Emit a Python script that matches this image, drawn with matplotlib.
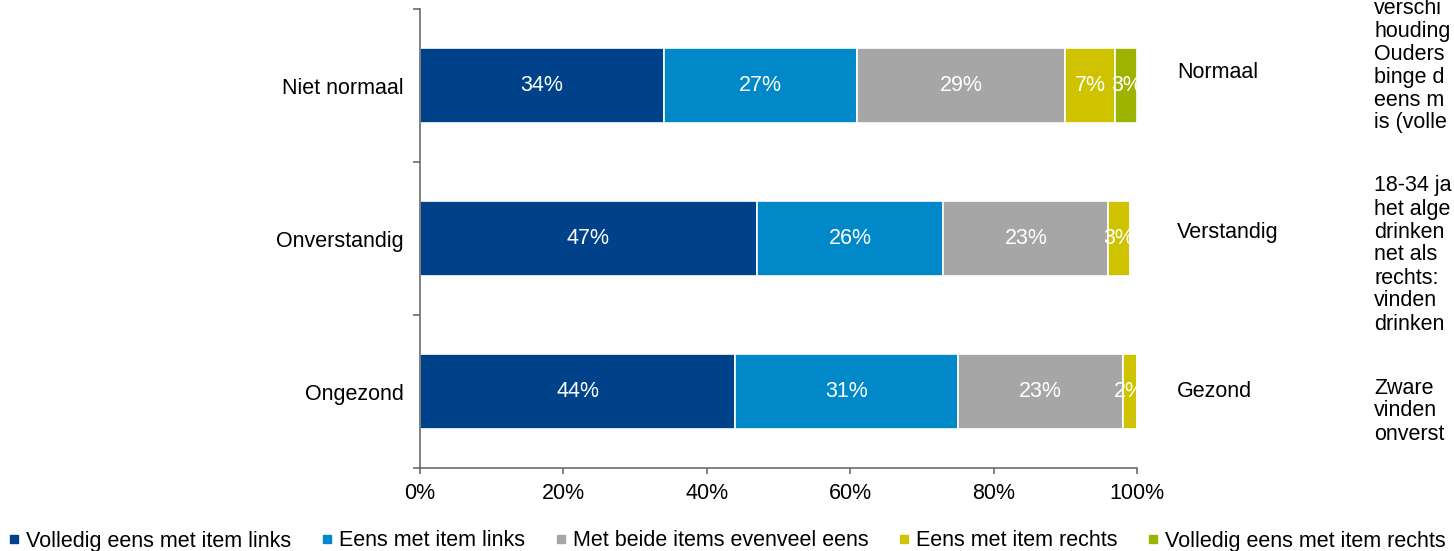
import numpy as np
import matplotlib.pyplot as plt
from matplotlib.lines import Line2D

plt.rcParams['font.family'] = ['Liberation Sans', 'DejaVu Sans']

#data
left_items = ['Niet normaal', 'Onverstandig', 'Ongezond']
right_items = ['Normaal', 'Verstandig', 'Gezond']
series = ['Volledig eens met item links', 'Eens met item links',
          'Met beide items evenveel eens', 'Eens met item rechts',
          'Volledig eens met item rechts']
values = np.array([
    [34, 27, 29, 7, 3],
    [47, 26, 23, 3, 0],
    [44, 31, 23, 2, 0],
])
xticks = [0, 20, 40, 60, 80, 100]
block1 = ['verschi', 'houding', 'Ouders', 'binge d', 'eens m', 'is (volle']
block2 = ['18-34 ja', 'het alge', 'drinken', 'net als', 'rechts:', 'vinden', 'drinken']
block3 = ['Zware', 'vinden', 'onverst']

colors = ['#00428A', '#0088C8', '#A6A6A6', '#CFC300', '#9DB300']
fs = 15.5

fig = plt.figure(figsize=(14.54, 5.51), dpi=100)
ax = fig.add_axes([420/1454, 1-468/551, 717/1454, 459/551])

y = np.arange(len(left_items))
left = np.zeros(len(left_items))
for i, name in enumerate(series):
    w = values[:, i]
    ax.barh(y, w, left=left, height=0.49, color=colors[i], edgecolor='white',
            linewidth=1.2, label=name)
    for j in range(len(y)):
        if w[j] > 0:
            ax.text(left[j] + w[j]/2, y[j], f'{w[j]}%', ha='center', va='center',
                    color='white', fontsize=fs, clip_on=True)
    left += w

ax.set_xlim(0, 100)
ax.set_ylim(2.5, -0.5)
ax.set_xticks(xticks)
ax.set_xticklabels([f'{t}%' for t in xticks], fontsize=fs)
ax.set_yticks(y)
ax.set_yticklabels(left_items, fontsize=fs)
ax.set_yticks([-0.5, 0.5, 1.5, 2.5], minor=True)
ax.tick_params(axis='y', which='major', length=0, pad=11.5)
ax.tick_params(axis='y', which='minor', length=5, color='#5F5F5F', width=1.1)
ax.tick_params(axis='x', length=4, color='#5F5F5F', width=1.1, pad=6.5)
for s in ['top', 'right']:
    ax.spines[s].set_visible(False)
for s in ['left', 'bottom']:
    ax.spines[s].set_color('#5F5F5F')
    ax.spines[s].set_linewidth(1.1)

#labels on the right of the bars
right_shift = [-0.085, -0.04, 0.0]
for j, lab in enumerate(right_items):
    ax.text(1.056, y[j] + right_shift[j], lab, transform=ax.get_yaxis_transform(),
            ha='left', va='center', fontsize=fs, clip_on=False)

#text block on the right of the slide (cut off in the source)
line_h = 23
for top, block in [(8, block1), (186, block2), (388, block3)]:
    for k, line in enumerate(block):
        fig.text(1374/1454, 1 - (top + line_h*k)/551, line, ha='left', va='center',
                 fontsize=fs)

handles = [Line2D([], [], marker='s', linestyle='none', markersize=5.2,
                  markerfacecolor=c, markeredgecolor=c) for c in colors]
fig.legend(handles, series, loc='center left', bbox_to_anchor=(0.0, 1-541/551), ncol=5,
           frameon=False, fontsize=fs, handlelength=0.5, handletextpad=0.3,
           columnspacing=1.42, borderaxespad=0)

fig.savefig('out.png', dpi=100)
